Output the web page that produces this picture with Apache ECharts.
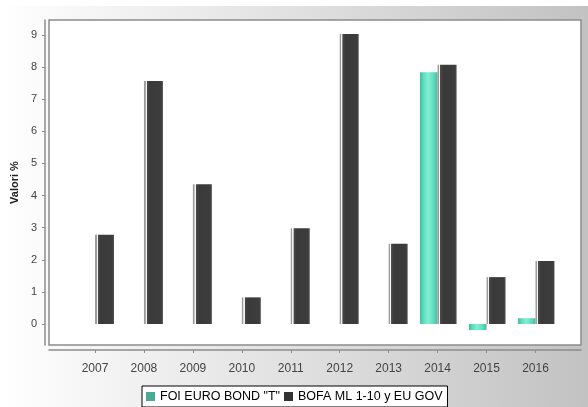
<!DOCTYPE html>
<html><head><meta charset="utf-8">
<script src="https://cdn.jsdelivr.net/npm/echarts@6/dist/echarts.min.js"></script>
<style>html,body{margin:0;padding:0;background:#fff}#c{width:588px;height:407px}</style>
</head><body><div id="c"></div>
<script>
var years = [2007, 2008, 2009, 2010, 2011, 2012, 2013, 2014, 2015, 2016];
var foiValues = [null, null, null, null, null, null, null, 7.84, -0.19, 0.18];
var bofaValues = [2.78, 7.57, 4.35, 0.83, 2.98, 9.03, 2.50, 8.07, 1.46, 1.96];
var yTicks = [0, 1, 2, 3, 4, 5, 6, 7, 8, 9];
var seriesNames = ['FOI EURO BOND "T"', 'BOFA ML 1-10 y EU GOV'];

function pairs(vals) { return years.map(function (y, i) { return [y, vals[i]]; }); }

var chart = echarts.init(document.getElementById('c'), null, { renderer: 'canvas' });
var font = 'Liberation Sans, Arial, sans-serif';
chart.setOption({
  animation: false,
  backgroundColor: { type: 'linear', x: 0, y: 0, x2: 1, y2: 0, colorStops: [{ offset: 0, color: '#ffffff' }, { offset: 1, color: '#c2c2c2' }] },
  graphic: [{ type: 'rect', left: 0, top: 0, shape: { width: 588, height: 6 }, style: { fill: '#ffffff' }, z: 100 }],
  grid: { left: 49, right: 7, top: 20, bottom: 62, show: true, backgroundColor: '#ffffff', borderColor: '#8c8c8c', borderWidth: 1.5 },
  legend: {
    left: 142, top: 386,
    backgroundColor: '#ffffff', borderColor: '#000', borderWidth: 1,
    padding: [4, 5, 4, 4], itemWidth: 9, itemHeight: 9, itemGap: 4, icon: 'rect',
    textStyle: { fontSize: 12.5, color: '#000', fontFamily: font },
    data: [{ name: seriesNames[0], itemStyle: { color: '#4aaa92' } }, { name: seriesNames[1], itemStyle: { color: '#333333' } }]
  },
  xAxis: {
    type: 'value', min: 2006.06, max: 2016.93, offset: 5,
    axisLine: { show: true, onZero: false, lineStyle: { color: '#8c8c8c', width: 1.5 } },
    axisTick: { show: true, length: 3, customValues: years, lineStyle: { color: '#8c8c8c' } },
    axisLabel: { customValues: years, margin: 13, fontSize: 12, color: '#444', fontFamily: font, formatter: function (v) { return String(v); } },
    splitLine: { show: false }
  },
  yAxis: {
    type: 'value', min: -0.654, max: 9.467, offset: 4,
    name: 'Valori %', nameLocation: 'middle', nameGap: 18,
    nameTextStyle: { fontSize: 11, fontWeight: 'bold', color: '#222', fontFamily: font },
    axisLine: { show: true, onZero: false, lineStyle: { color: '#8c8c8c', width: 1.5 } },
    axisTick: { show: true, length: 3, customValues: yTicks, lineStyle: { color: '#8c8c8c' } },
    axisLabel: { customValues: yTicks, margin: 8, fontSize: 11, color: '#444', fontFamily: font },
    splitLine: { show: false }
  },
  series: [
    {
      name: seriesNames[0], type: 'bar', data: pairs(foiValues), barWidth: 19, barGap: '0%',
      itemStyle: { color: { type: 'linear', x: 0, y: 0, x2: 1, y2: 0, colorStops: [
        { offset: 0, color: '#ffffff' }, { offset: 0.06, color: '#ffffff' }, { offset: 0.07, color: '#38c09e' },
        { offset: 0.25, color: '#5cdcbc' }, { offset: 0.5, color: '#84eed4' }, { offset: 0.8, color: '#5cdcbc' },
        { offset: 0.94, color: '#46c6a6' }, { offset: 1, color: '#9a9a9a' }] } }
    },
    {
      name: seriesNames[1], type: 'bar', data: pairs(bofaValues), barWidth: 19, barGap: '0%',
      itemStyle: { color: { type: 'linear', x: 0, y: 0, x2: 1, y2: 0, colorStops: [
        { offset: 0, color: '#9c9c9c' }, { offset: 0.08, color: '#9c9c9c' }, { offset: 0.09, color: '#f4f4f4' },
        { offset: 0.14, color: '#f4f4f4' }, { offset: 0.15, color: '#4a4a4a' }, { offset: 0.3, color: '#3a3a3a' },
        { offset: 0.9, color: '#3c3c3c' }, { offset: 1, color: '#555555' }] } }
    }
  ]
});
</script></body></html>
